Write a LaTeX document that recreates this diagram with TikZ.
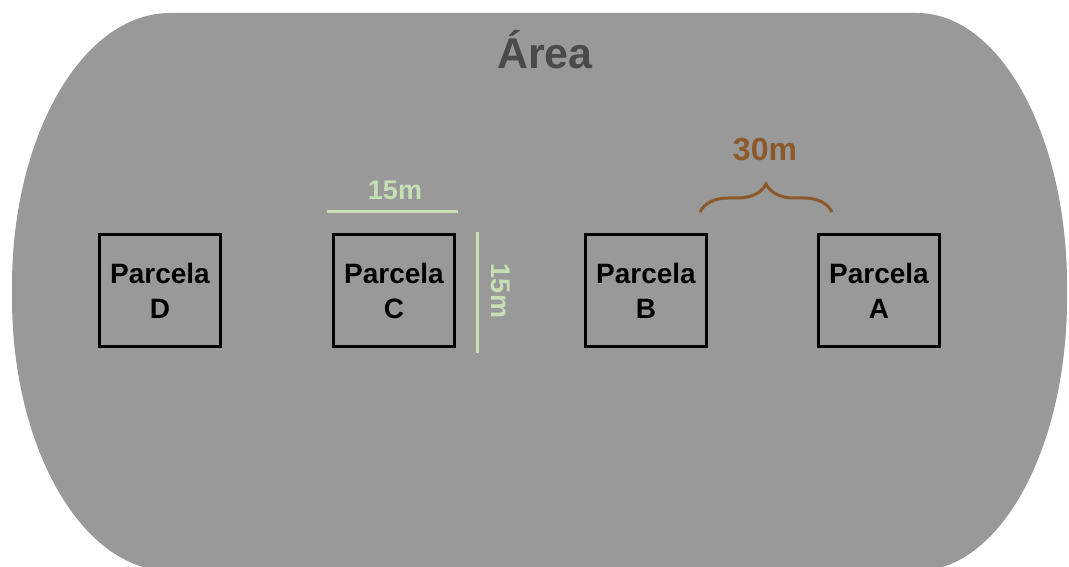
\documentclass[tikz,border=0pt]{standalone}
\usepackage{fontspec}
\setmainfont{Liberation Sans}
\usepackage{tikz}
\usetikzlibrary{positioning,calc,decorations.pathreplacing}

\definecolor{areagray}{HTML}{999999}
\definecolor{titlegray}{HTML}{4A4A4A}
\definecolor{sizegreen}{HTML}{C6E0B4}
\definecolor{bracebrown}{HTML}{8C5A2A}

\begin{document}
\begin{tikzpicture}[
  x=1pt,y=1pt,
  every node/.style={align=center,inner sep=0pt},
  plot/.style={draw=black,line width=3pt,minimum width=121pt,minimum height=112pt,
    font=\fontsize{28}{35}\selectfont\bfseries},
  dim/.style={draw=sizegreen,line width=3pt},
  dimlabel/.style={text=sizegreen,font=\fontsize{27}{30}\selectfont\bfseries}
]
\useasboundingbox (0,0) rectangle (1069,566);
% area outline
\fill[areagray] (170,553) -- (917,553)
  arc[start angle=90,end angle=0,x radius=150,y radius=273] -- (1067,268)
  arc[start angle=0,end angle=-90,x radius=150,y radius=273] -- (170,-5)
  arc[start angle=270,end angle=180,x radius=158,y radius=273] -- (12,280)
  arc[start angle=180,end angle=90,x radius=158,y radius=273] -- cycle;
\node[text=titlegray,font=\fontsize{43}{50}\selectfont\bfseries] (title) at (545,516) {Área};
% plots
\node[plot] (d) at (160,275.5) {Parcela\\D};
\node[plot,right=110pt of d] (c) {Parcela\\C};
\node[plot,right=128pt of c] (b) {Parcela\\B};
\node[plot,right=109pt of b] (a) {Parcela\\A};
% size of plot C
\coordinate (hl) at ($(c.north west)+(-5,21)$);
\coordinate (hr) at ($(c.north east)+(2,21)$);
\draw[dim] (hl) -- (hr);
\node[dimlabel] (hlab) at (395,376) {15m};
\coordinate (vt) at ($(c.north east)+(21,1)$);
\coordinate (vb) at ($(c.south east)+(21,-5)$);
\draw[dim] (vt) -- (vb);
\node[dimlabel,rotate=-90] (vlab) at (501,275) {15m};
% spacing between plots
\coordinate (bl) at (700,354);
\coordinate (br) at (832,354);
\draw[bracebrown,line width=3pt,decorate,decoration={brace,amplitude=28pt}] (bl) -- (br);
\node[text=bracebrown,font=\fontsize{32}{36}\selectfont\bfseries] (gap) at (765,416) {30m};
\end{tikzpicture}
\end{document}
